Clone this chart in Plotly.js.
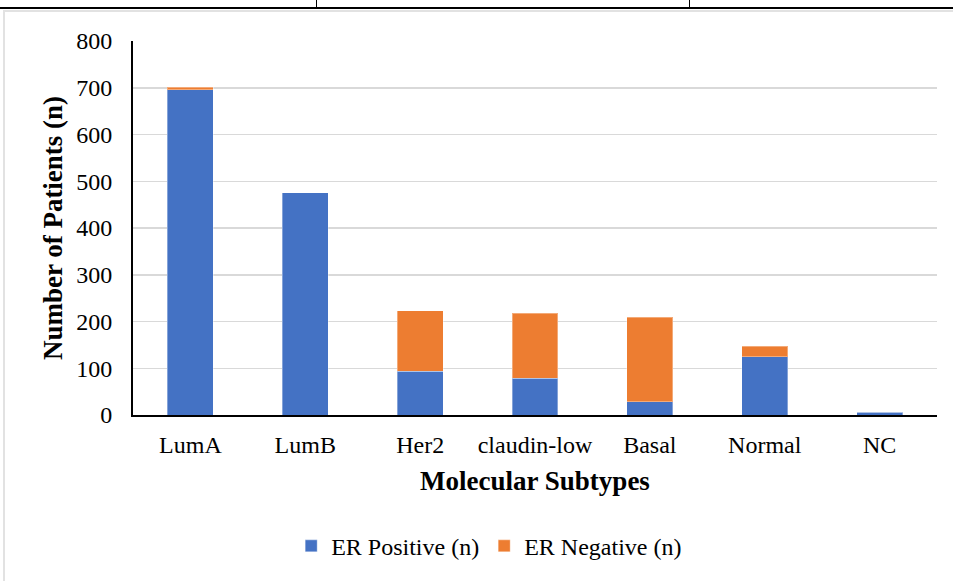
<!DOCTYPE html>
<html>
<head>
<meta charset="utf-8">
<script src="https://cdn.plot.ly/plotly-3.0.1.min.js"></script>
<style>
  html, body { margin: 0; padding: 0; background: #ffffff; }
  #wrap { position: relative; width: 953px; height: 581px; overflow: hidden; }
  #chart { position: absolute; left: 0; top: 0; width: 953px; height: 581px; }
  .rule { position: absolute; pointer-events: none; }
</style>
</head>
<body>
<div id="wrap">
  <div id="chart"></div>
  <!-- table rule above the figure and the figure frame -->
  <div class="rule" style="left:0; top:7px; width:953px; height:2px; background:#000;"></div>
  <div class="rule" style="left:316px; top:0; width:1px; height:8px; background:#000;"></div>
  <div class="rule" style="left:689px; top:0; width:1px; height:8px; background:#000;"></div>
  <div class="rule" style="left:3px; top:10px; width:950px; height:2px; background:#e2e2e2;"></div>
  <div class="rule" style="left:3px; top:10px; width:2px; height:571px; background:#e2e2e2;"></div>
</div>
<script>
// Patients per molecular subtype, split by ER status
const subtypes = ["LumA", "LumB", "Her2", "claudin-low", "Basal", "Normal", "NC"];
const erPositive = [696, 475, 94, 79, 28, 125, 6];
const erNegative = [5, 0, 129, 139, 181, 22, 0];
const yTicks = [0, 100, 200, 300, 400, 500, 600, 700, 800];

const serif = 'Liberation Serif, Times New Roman, Times, serif';

const traces = [
  {
    type: 'bar',
    name: 'ER Positive (n)',
    x: subtypes,
    y: erPositive,
    marker: { color: '#4472C4', line: { width: 1, color: 'rgba(255,255,255,0.35)' } },
    hoverinfo: 'x+y+name'
  },
  {
    type: 'bar',
    name: 'ER Negative (n)',
    x: subtypes,
    y: erNegative,
    marker: { color: '#ED7D31', line: { width: 1, color: 'rgba(255,255,255,0.35)' } },
    hoverinfo: 'x+y+name'
  }
];

const layout = {
  width: 953,
  height: 581,
  margin: { l: 133, r: 16, t: 41, b: 164 },
  paper_bgcolor: 'rgba(0,0,0,0)',
  plot_bgcolor: '#ffffff',
  barmode: 'stack',
  bargap: 0.6,
  font: { family: serif, size: 24, color: '#000000' },
  xaxis: {
    type: 'category',
    showline: true,
    linecolor: '#000000',
    linewidth: 2,
    showgrid: false,
    ticks: '',
    ticklabelstandoff: 7,
    tickfont: { family: serif, size: 24, color: '#000000' },
    title: {
      text: '<b>Molecular Subtypes</b>',
      font: { family: serif, size: 27, color: '#000000' },
      standoff: 14
    },
    fixedrange: true
  },
  yaxis: {
    range: [0, 800],
    tickvals: yTicks,
    ticktext: yTicks.map(String),
    showline: true,
    linecolor: '#000000',
    linewidth: 2,
    showgrid: true,
    gridcolor: '#d9d9d9',
    gridwidth: 1.5,
    zeroline: false,
    ticks: '',
    ticklabelstandoff: 14,
    tickfont: { family: serif, size: 24, color: '#000000' },
    title: {
      text: '<b>Number of Patients (n)</b>',
      font: { family: serif, size: 27, color: '#000000' },
      standoff: 6
    },
    fixedrange: true
  },
  showlegend: true,
  legend: {
    orientation: 'h',
    x: 0.443,
    xanchor: 'center',
    y: -0.351,
    yanchor: 'middle',
    font: { family: serif, size: 24, color: '#000000' },
    bgcolor: 'rgba(0,0,0,0)',
    traceorder: 'normal'
  }
};

Plotly.newPlot('chart', traces, layout, { displayModeBar: false, staticPlot: true });
</script>
</body>
</html>
